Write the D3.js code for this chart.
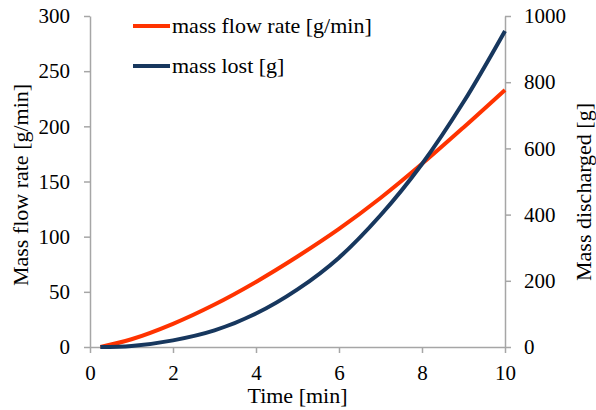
<!DOCTYPE html>
<html>
<head>
<meta charset="utf-8">
<script src="https://cdn.jsdelivr.net/npm/d3@7"></script>
<style>
  html, body { margin: 0; padding: 0; background: #fff; }
  svg { display: block; }
</style>
</head>
<body>
<svg id="chart" width="596" height="410" font-family="Liberation Serif"></svg>
<script>
// ---- data ----
const time = [0.25, 1, 2, 3, 4, 5, 6, 7, 8, 9, 10];
const massFlowRate = [0, 7, 21, 38.5, 59, 82, 107, 135, 166, 199, 233];   // g/min (left axis)
const massLost = [0, 3, 20, 50, 101, 174, 270, 398, 553, 740, 955];       // g (right axis)
const xTicks = [0, 2, 4, 6, 8, 10];
const yLeftTicks = [0, 50, 100, 150, 200, 250, 300];
const yRightTicks = [0, 200, 400, 600, 800, 1000];
const seriesNames = ["mass flow rate [g/min]", "mass lost [g]"];
const seriesColors = ["#ff3300", "#17375e"];

(function () {
// ---- layout ----
const svg = d3.select("#chart");
const mLeft = 90, mRight = 505, mTop = 16, mBottom = 347;
const axisColor = "#a6a6a6";
const serif = "Liberation Serif";

const x = d3.scaleLinear().domain([0, 10]).range([mLeft, mRight]);
const yL = d3.scaleLinear().domain([0, 300]).range([mBottom, mTop]);
const yR = d3.scaleLinear().domain([0, 1000]).range([mBottom, mTop]);

function styleAxis(g) {
  g.attr("font-family", serif).attr("font-size", 21);
  g.selectAll(".domain").attr("stroke", axisColor).attr("stroke-width", 1.5);
  g.selectAll(".tick line").attr("stroke", axisColor).attr("stroke-width", 1.5);
  g.selectAll(".tick text").attr("fill", "#000")
    .attr("font-family", serif).attr("font-size", 21);
}

// x axis
svg.append("g")
  .attr("transform", `translate(0,${mBottom})`)
  .call(d3.axisBottom(x).tickValues(xTicks).tickFormat(d3.format("d"))
    .tickSize(6).tickSizeOuter(0).tickPadding(12))
  .call(styleAxis);

// left axis
svg.append("g")
  .attr("transform", `translate(${mLeft},0)`)
  .call(d3.axisLeft(yL).tickValues(yLeftTicks).tickFormat(d3.format("d"))
    .tickSize(6).tickSizeOuter(0).tickPadding(14))
  .call(styleAxis);

// right axis
svg.append("g")
  .attr("transform", `translate(${mRight},0)`)
  .call(d3.axisRight(yR).tickValues(yRightTicks).tickFormat(d3.format("d"))
    .tickSize(6).tickSizeOuter(0).tickPadding(13))
  .call(styleAxis);

// lines
const lineL = d3.line().x((d, i) => x(time[i])).y(d => yL(d)).curve(d3.curveCatmullRom.alpha(0.5));
const lineR = d3.line().x((d, i) => x(time[i])).y(d => yR(d)).curve(d3.curveCatmullRom.alpha(0.5));

svg.append("path").datum(massFlowRate)
  .attr("d", lineL).attr("fill", "none")
  .attr("stroke", seriesColors[0]).attr("stroke-width", 4);
svg.append("path").datum(massLost)
  .attr("d", lineR).attr("fill", "none")
  .attr("stroke", seriesColors[1]).attr("stroke-width", 4);

// axis titles
svg.append("text")
  .attr("transform", `translate(28,185) rotate(-90)`)
  .attr("text-anchor", "middle")
  .attr("font-family", serif).attr("font-size", 22)
  .text("Mass flow rate [g/min]");

svg.append("text")
  .attr("transform", `translate(591,192) rotate(-90)`)
  .attr("text-anchor", "middle")
  .attr("font-family", serif).attr("font-size", 22)
  .text("Mass discharged [g]");

svg.append("text")
  .attr("x", (mLeft + mRight) / 2)
  .attr("y", 403)
  .attr("text-anchor", "middle")
  .attr("font-family", serif).attr("font-size", 22)
  .text("Time [min]");

// legend
const legendY = [26, 66];
seriesNames.forEach((name, i) => {
  svg.append("line")
    .attr("x1", 133).attr("x2", 170)
    .attr("y1", legendY[i]).attr("y2", legendY[i])
    .attr("stroke", seriesColors[i]).attr("stroke-width", 4);
  svg.append("text")
    .attr("x", 172).attr("y", legendY[i] + 7)
    .attr("font-family", serif).attr("font-size", 22)
    .text(name);
});
})();
</script>
</body>
</html>
